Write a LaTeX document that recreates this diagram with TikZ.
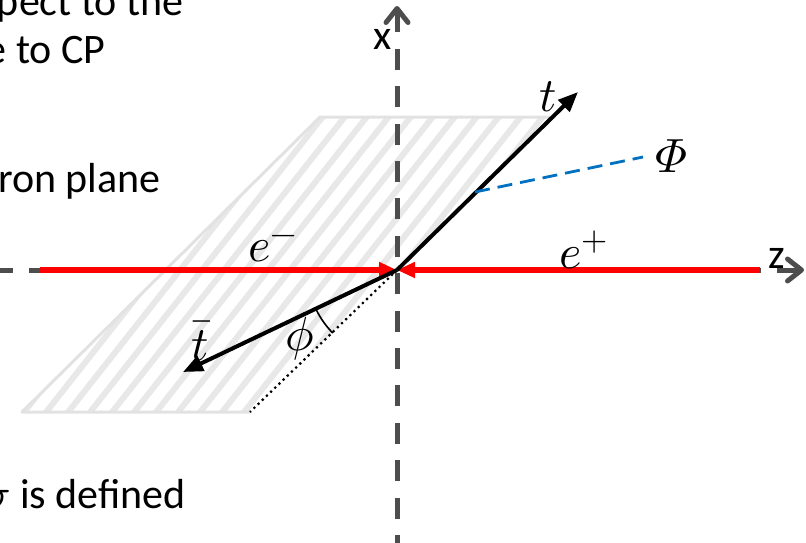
\documentclass[tikz,border=0pt]{standalone}
\usepackage{unicode-math}
\setmainfont{Carlito}
\usetikzlibrary{arrows.meta}
\definecolor{axisgray}{HTML}{4D4D4D}
\definecolor{stripegray}{HTML}{E8E8E8}
\definecolor{edgegray}{HTML}{E2E2E2}
\definecolor{phiblue}{HTML}{0070C0}
\tikzset{>=Triangle,every node/.style={font=\fontsize{21}{25}\selectfont},
  lbl/.style={font=\fontsize{24}{28}\selectfont},
  slide/.style={anchor=base east,inner sep=0pt},
  axis/.style={line width=2.5pt,axisgray,dash pattern=on 10.5pt off 8.2pt,-{Straight Barb[length=7pt,width=11pt,round]}},
  beam/.style={line width=2.7pt,red,-{Triangle[length=9pt,width=7.5pt]}},
  quark/.style={line width=2pt,-{Triangle[length=10pt,width=8pt]}},
  stripe/.style={line width=3pt,stripegray}}
\begin{document}
\begin{tikzpicture}[x=.5pt,y=-.5pt]
\useasboundingbox (0,0) rectangle (806,542);
\clip (0,0) rectangle (806,542);
% cut text of the slide
\node[slide] (txta) at (184,15) {pect to the};
\node[slide] (txtb) at (106,63) {e to CP};
\node[slide] (txtc) at (161,192) {ron plane};
\node[slide] (txtd) at (186,508) {$\sigma$ is defined};
% electron plane
\coordinate (A) at (22,412);\coordinate (B) at (250,412);\coordinate (C) at (555,117);\coordinate (D) at (320,117);
\fill[white] (A)--(B)--(C)--(D)--cycle;
\begin{scope}\clip (A)--(B)--(C)--(D)--cycle;
\foreach \s in {-320,-298,...,620} \draw[stripe] (\s,430)--++(260,-330);
\end{scope}
\draw[line width=1.5pt,edgegray,line join=round] (B)--(A)--(D)--(C);
% axes
\coordinate (O) at (397,270);
\coordinate (xbot) at (397,556);\coordinate (xtop) at (397,6);
\coordinate (zl) at (-8,270);\coordinate (zr) at (804,270);
\draw[axis] (xbot)--(xtop);\draw[axis] (zl)--(zr);
\node (xlab) at (383,39) {x};\node (zlab) at (777,258) {z};
% beams
\coordinate (em) at (40,270);\coordinate (ep) at (760,270);
\draw[beam] (em)--(O);\draw[beam] (ep)--(O);
\node[lbl] (emlab) at (273,249) {$e^{-}$};\node[lbl] (eplab) at (584,250) {$e^{+}$};
% top pair
\coordinate (tt) at (578,92);\coordinate (tb) at (183,372);
\draw[line width=1.1pt,dash pattern=on 1.1pt off 1.8pt] (O)--(B);
\draw[quark] (O)--(tt);\draw[quark] (O)--(tb);
\node[lbl] (tlab) at (548,97) {$t$};\node[lbl] (tblab) at (200,341) {$\bar{t}$};
\draw[line width=.8pt] (O) ++(154.5:90) arc[start angle=154.5,end angle=135.5,radius=90];
\node[lbl] (philab) at (300,339) {$\phi$};
\coordinate (ps) at (475,192);\coordinate (pe) at (643,157);
\draw[phiblue,line width=1.4pt,dash pattern=on 7.5pt off 4pt] (ps)--(pe);
\node[lbl] (Philab) at (672,156) {$\symit{\Phi}$};
\end{tikzpicture}
\end{document}
